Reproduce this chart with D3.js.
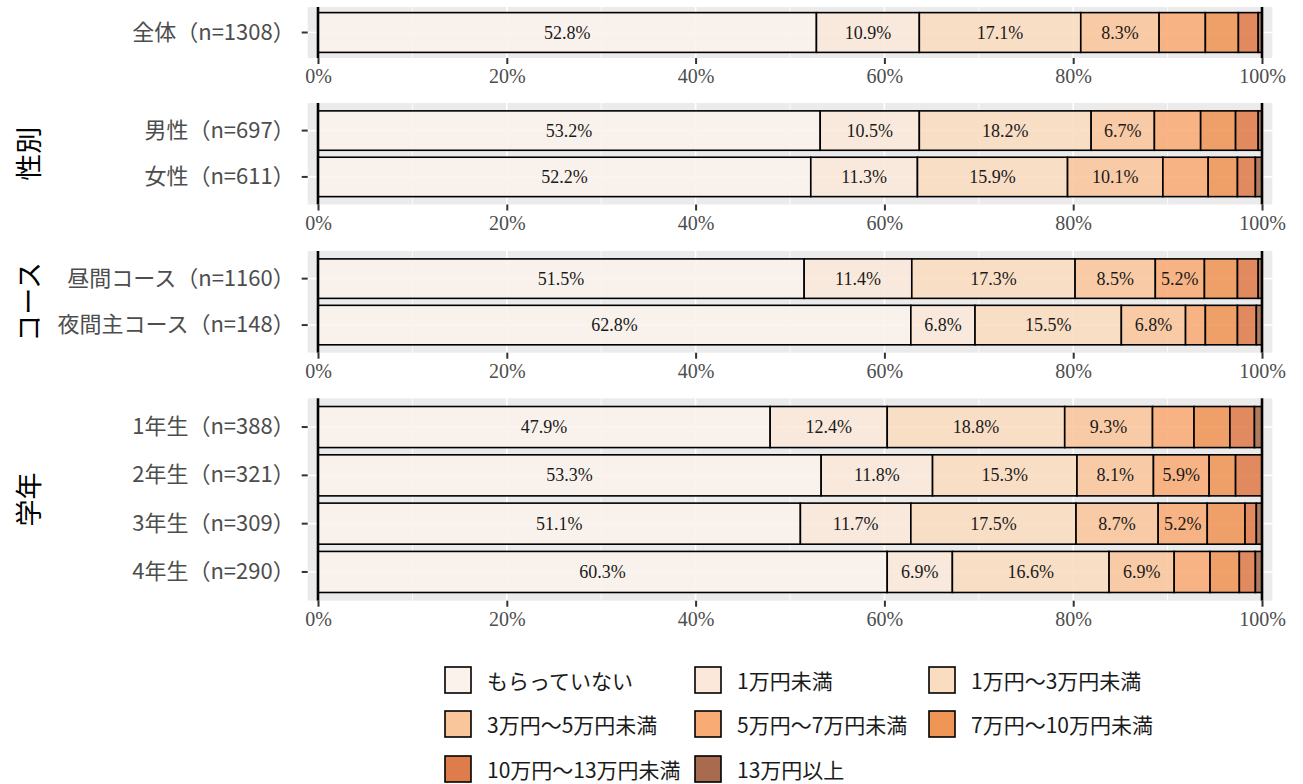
<!DOCTYPE html>
<html>
<head>
<meta charset="utf-8">
<script src="https://cdn.jsdelivr.net/npm/d3@7"></script>
<style>
  body { margin: 0; background: #fff; }
  svg { display: block; }
</style>
</head>
<body>
<script>
// ---- data ----
const categories = ["もらっていない", "1万円未満", "1万円～3万円未満", "3万円～5万円未満",
                    "5万円～7万円未満", "7万円～10万円未満", "10万円～13万円未満", "13万円以上"];
const colors = ["#FBF2EC", "#FBE8DA", "#FADCC0", "#F9C59B", "#F8AB74", "#EF9556", "#DF7C4C", "#A86B4F"];

const groups    = ["", "性別", "コース", "学年"];
const rowLabels = ["全体（n=1308）", "男性（n=697）", "女性（n=611）",
                   "昼間コース（n=1160）", "夜間主コース（n=148）",
                   "1年生（n=388）", "2年生（n=321）", "3年生（n=309）", "4年生（n=290）"];
const rowGroup  = [0, 1, 1, 2, 2, 3, 3, 3, 3];

const zentai = [52.8, 10.9, 17.1, 8.3, 4.9, 3.5, 2.1, 0.4];
const dansei = [53.2, 10.5, 18.2, 6.7, 4.9, 3.7, 2.4, 0.4];
const josei  = [52.2, 11.3, 15.9, 10.1, 4.8, 3.1, 1.9, 0.7];
const hiruma = [51.5, 11.4, 17.3, 8.5, 5.2, 3.5, 2.2, 0.4];
const yakan  = [62.8, 6.8, 15.5, 6.8, 2.1, 3.4, 2.0, 0.6];
const nen1   = [47.9, 12.4, 18.8, 9.3, 4.4, 3.8, 2.6, 0.8];
const nen2   = [53.3, 11.8, 15.3, 8.1, 5.9, 2.8, 2.8, 0.0];
const nen3   = [51.1, 11.7, 17.5, 8.7, 5.2, 4.0, 1.2, 0.6];
const nen4   = [60.3, 6.9, 16.6, 6.9, 3.8, 3.1, 1.7, 0.7];
const rowValues = [zentai, dansei, josei, hiruma, yakan, nen1, nen2, nen3, nen4];

const xTicks = [0, 20, 40, 60, 80, 100];

// ---- layout ----
const W = 1303, H = 784;
const panels = [[7, 58], [103, 204.5], [251, 352.7], [398.3, 600.7]];
const outerPad = [0.12, 0.17, 0.17, 0.17];

const svg = d3.select("body").append("svg").attr("width", W).attr("height", H);

const x = d3.scaleLinear().domain([0, 100]).range([318, 1262]);
const xPad = 10.3;

// rows as objects for d3.stack
const rows = rowValues.map((v, i) => {
  const o = { label: rowLabels[i], group: rowGroup[i] };
  categories.forEach((c, j) => o[c] = v[j]);
  return o;
});
const series = d3.stack().keys(categories)(rows);

groups.forEach((g, gi) => {
  const [top, bottom] = panels[gi];
  const labs = rowLabels.filter((d, i) => rowGroup[i] === gi);
  const y = d3.scaleBand().domain(labs).range([top, bottom])
              .paddingInner(0.15).paddingOuter(outerPad[gi]);
  const p = svg.append("g");

  // panel background
  p.append("rect")
    .attr("x", x(0) - xPad).attr("y", top)
    .attr("width", x(100) - x(0) + 2 * xPad).attr("height", bottom - top)
    .attr("fill", "#EBEBEB");

  // minor + major grid
  p.selectAll(".minor").data([10, 30, 50, 70, 90]).enter().append("line")
    .attr("x1", d => x(d)).attr("x2", d => x(d))
    .attr("y1", top).attr("y2", bottom)
    .attr("stroke", "#fff").attr("stroke-width", 0.8);
  p.selectAll(".major").data(xTicks).enter().append("line")
    .attr("x1", d => x(d)).attr("x2", d => x(d))
    .attr("y1", top).attr("y2", bottom)
    .attr("stroke", "#fff").attr("stroke-width", 1.6);
  p.selectAll(".hgrid").data(labs).enter().append("line")
    .attr("x1", x(0) - xPad).attr("x2", x(100) + xPad)
    .attr("y1", d => y(d) + y.bandwidth() / 2).attr("y2", d => y(d) + y.bandwidth() / 2)
    .attr("stroke", "#fff").attr("stroke-width", 1.6);

  // stacked bars
  series.forEach((s, si) => {
    const segs = s.filter(d => d.data.group === gi);
    p.selectAll(null).data(segs).enter().append("rect")
      .attr("x", d => x(d[0]))
      .attr("y", d => y(d.data.label))
      .attr("width", d => x(d[1]) - x(d[0]))
      .attr("height", y.bandwidth())
      .attr("fill", colors[si])
      .attr("fill-opacity", 0.88)
      .attr("stroke", d => d[1] - d[0] > 0 ? "#000" : "none")
      .attr("stroke-width", 1.6);
    p.selectAll(null).data(segs.filter(d => d[1] - d[0] >= 5)).enter().append("text")
      .attr("x", d => (x(d[0]) + x(d[1])) / 2)
      .attr("y", d => y(d.data.label) + y.bandwidth() / 2)
      .attr("text-anchor", "middle")
      .attr("dominant-baseline", "central")
      .attr("font-family", "Liberation Serif, serif")
      .attr("font-size", "18px")
      .attr("fill", "#1a1a1a")
      .text(d => (d[1] - d[0]).toFixed(1) + "%");
  });

  // vertical lines at 0 and 100
  p.selectAll(".vl").data([0, 100]).enter().append("line")
    .attr("x1", d => x(d)).attr("x2", d => x(d))
    .attr("y1", top).attr("y2", bottom)
    .attr("stroke", "#000").attr("stroke-width", 2.6);

  // x axis
  const xa = p.append("g").attr("transform", `translate(0,${bottom})`)
    .call(d3.axisBottom(x).tickValues(xTicks).tickFormat(d => d + "%").tickSize(6).tickPadding(5));
  xa.select(".domain").remove();
  xa.selectAll(".tick line").attr("stroke", "#333").attr("stroke-width", 2);
  xa.selectAll(".tick text").attr("font-family", "Liberation Serif, serif")
    .attr("font-size", "20px").attr("fill", "#4D4D4D");

  // y axis
  const ya = p.append("g").attr("transform", `translate(${x(0) - xPad},0)`)
    .call(d3.axisLeft(y).tickSize(6).tickPadding(7));
  ya.select(".domain").remove();
  ya.selectAll(".tick line").attr("stroke", "#333").attr("stroke-width", 2);
  ya.selectAll(".tick text").attr("font-family", "Noto Sans CJK JP, sans-serif")
    .attr("font-size", "22px").attr("fill", "#4D4D4D");

  // strip label
  p.append("text")
    .attr("transform", `translate(27,${(top + bottom) / 2}) rotate(-90)`)
    .attr("text-anchor", "middle")
    .attr("dominant-baseline", "central")
    .attr("font-family", "Noto Sans CJK JP, sans-serif")
    .attr("font-size", "27px")
    .attr("fill", "#000")
    .text(g);
});

// ---- legend ----
const colX = [445, 695, 929];
const rowY = [667, 711, 756];
const leg = svg.append("g");
categories.forEach((c, i) => {
  const cx = colX[i % 3], cy = rowY[Math.floor(i / 3)];
  leg.append("rect")
    .attr("x", cx).attr("y", cy).attr("width", 26).attr("height", 26)
    .attr("fill", colors[i]).attr("stroke", "#000").attr("stroke-width", 1.6);
  leg.append("text")
    .attr("x", cx + 42).attr("y", cy + 13)
    .attr("dominant-baseline", "central")
    .attr("font-family", "Noto Sans CJK JP, sans-serif")
    .attr("font-size", "21px").attr("fill", "#1a1a1a")
    .text(c);
});
</script>
</body>
</html>
